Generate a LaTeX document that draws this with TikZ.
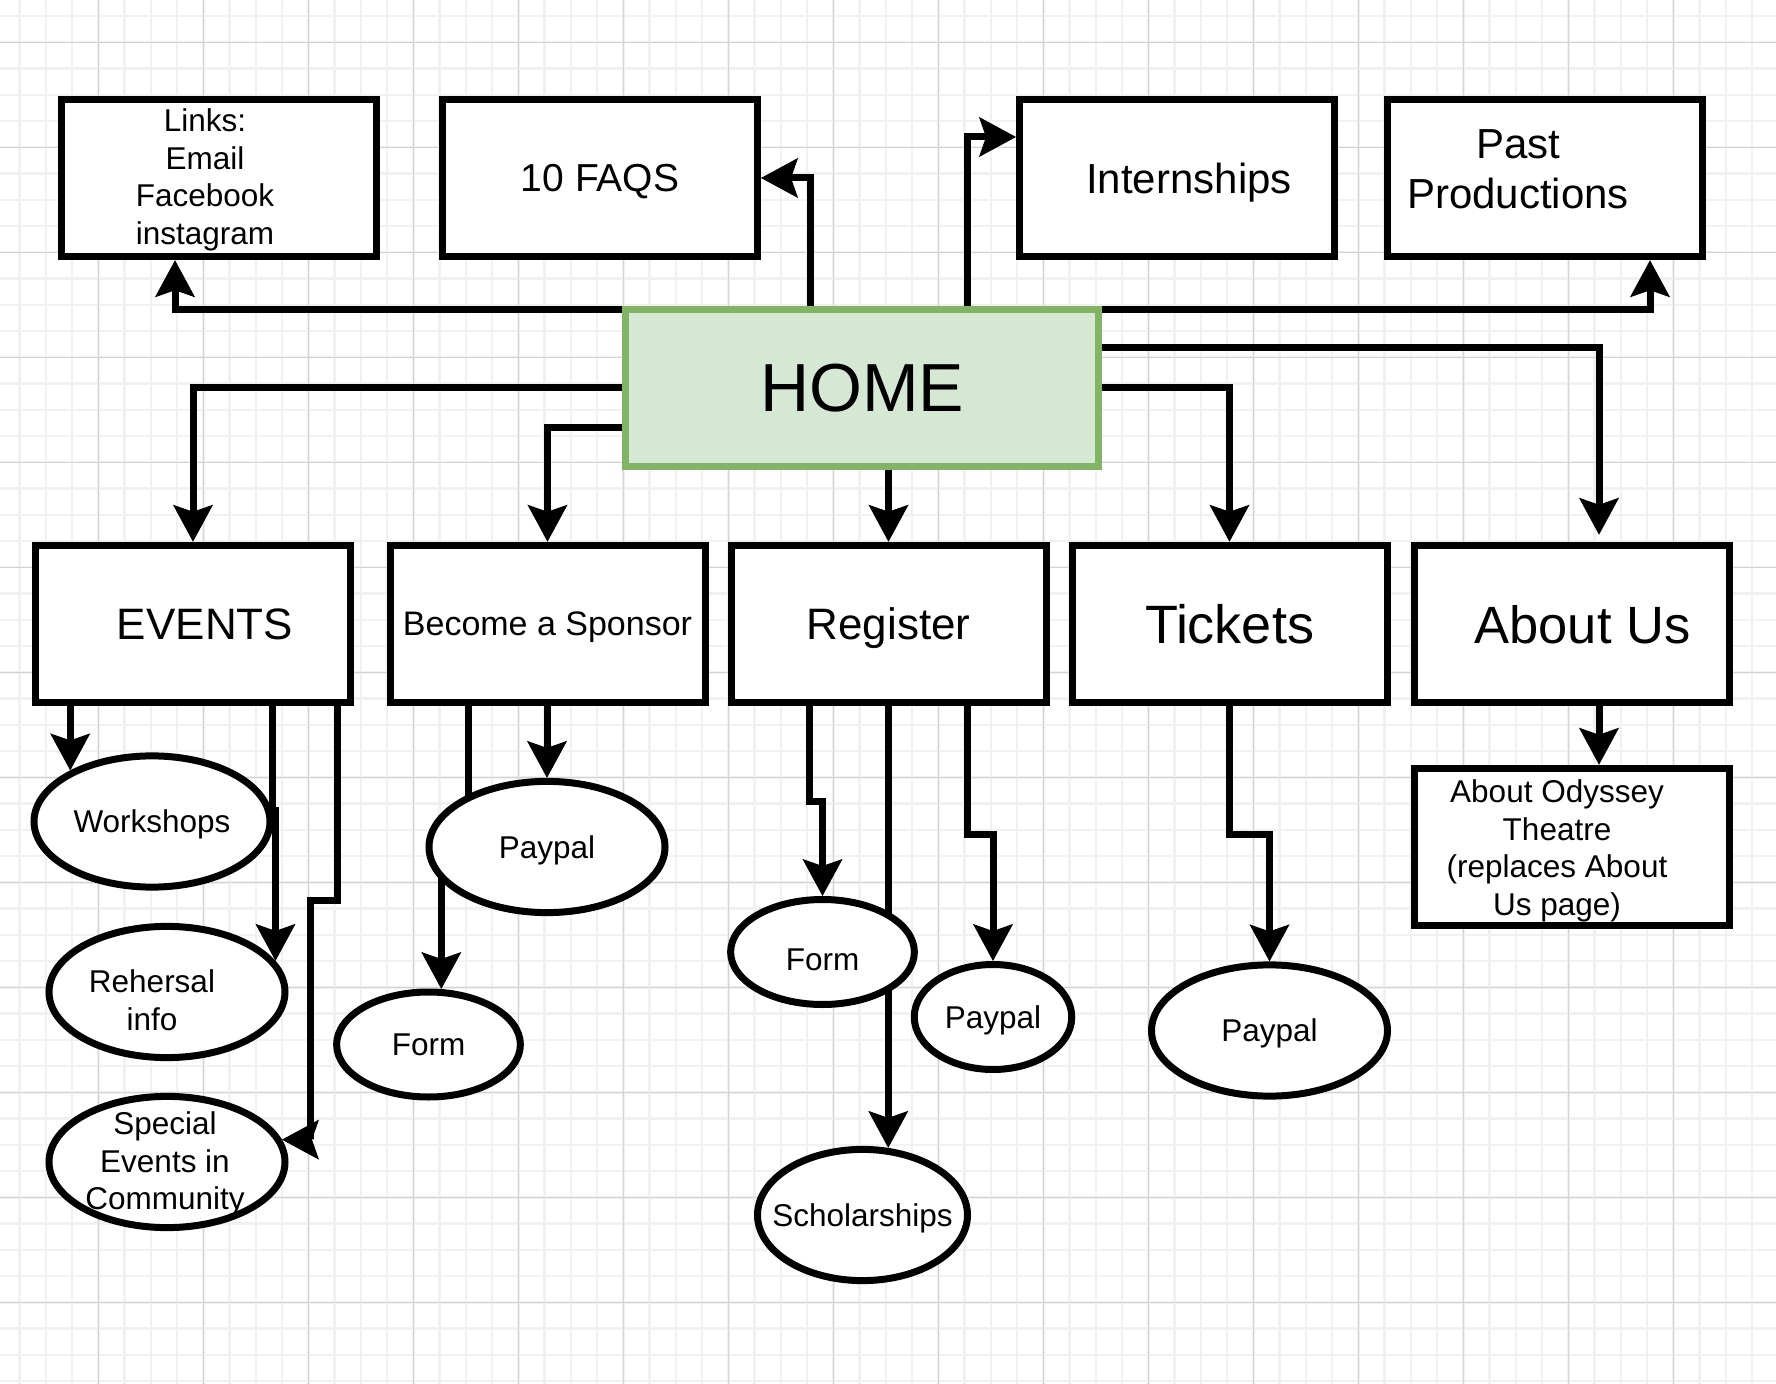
\documentclass[tikz,border=0pt]{standalone}
\usepackage{fontspec}
\setmainfont{Liberation Sans}
\usetikzlibrary{arrows.meta,positioning,shapes.geometric,backgrounds}
\definecolor{Sage}{HTML}{D5E8D4}
\definecolor{Leaf}{HTML}{82B366}
\definecolor{GridMinor}{HTML}{F1F1F1}
\definecolor{GridMajor}{HTML}{D3D3D3}
\tikzset{page/.style={draw=black,fill=white,line width=3.5pt,minimum width=157.5pt,
  minimum height=78.75pt,inner sep=0pt,text depth=0pt},
  leaf/.style={ellipse,draw=black,fill=white,line width=3.5pt,inner sep=0pt,
  minimum width=118pt,minimum height=65.6pt},
  small/.style={font=\fontsize{15.75}{18.75}\selectfont,align=center},
  link/.style={-{Stealth[length=18.5pt,width=20pt,inset=3.5pt,line width=0.5pt]},line width=3.5pt}}
\begin{document}
\begin{tikzpicture}[x=0.5pt,y=-0.5pt]
\useasboundingbox (0,0) rectangle (1776,1384);
\begin{scope}[on background layer]
\fill[white] (0,0) rectangle (1776,1384);
\foreach \k in {0,...,67} \draw[GridMinor,line width=1.2pt] ({19.55+26.25*\k},0) -- ++(0,1384);
\foreach \k in {0,...,52} \draw[GridMinor,line width=1.2pt] (0,{16.05+26.25*\k}) -- ++(1776,0);
\foreach \k in {0,...,15} \draw[GridMajor,line width=0.5pt] ({98.3+105*\k},0) -- ++(0,1384);
\foreach \k in {0,...,12} \draw[GridMajor,line width=0.5pt] (0,{42.3+105*\k}) -- ++(1776,0);
\end{scope}
% top row
\node[page,label={[small,xshift=-6.75pt,yshift=-1pt]center:{Links:\\Email\\Facebook\\instagram}}] (links) at (218.5,178) {};
\node[page,font=\fontsize{19.5}{23}\selectfont] (faqs) at (600,178) {10 FAQS};
\node[page,label={[font=\fontsize{21}{25}\selectfont,text depth=0pt,xshift=6pt]center:Internships}] (intern) at (1177,178) {};
\node[page,label={[font=\fontsize{21}{25}\selectfont,align=center,xshift=-13.25pt,yshift=4.5pt]center:{Past\\Productions}}] (past) at (1544.5,178) {};
\node[page,fill=Sage,draw=Leaf,minimum width=236.25pt,font=\fontsize{34}{40}\selectfont] (home) at (862,388) {HOME};
% second row
\node[page,label={[font=\fontsize{22}{26}\selectfont,text depth=0pt,xshift=6pt]center:EVENTS}] (events) at (193,624) {};
\node[page,font=\fontsize{17}{20}\selectfont] (sponsor) at (547.5,624) {Become a Sponsor};
\node[page,font=\fontsize{22}{26}\selectfont] (register) at (888.5,624) {Register};
\node[page,font=\fontsize{27}{32}\selectfont] (tickets) at (1229.5,624) {Tickets};
\node[page,label={[font=\fontsize{26.25}{31}\selectfont,text depth=0pt,xshift=5.5pt]center:About Us}] (about) at (1571.5,624) {};
\node[page,label={[small,xshift=-7.25pt,yshift=-2pt]center:{About Odyssey\\Theatre\\(replaces About\\Us page)}}] (odyssey) at (1571.5,847) {};
% sub pages
\node[leaf,small,text depth=0pt] (workshops) at (152,821.5) {Workshops};
\node[leaf,label={[small,xshift=-7.5pt,yshift=-4pt]center:{Rehersal\\info}}] (rehersal) at (167,992) {};
\node[leaf,label={[small,xshift=-1pt,yshift=-1pt]center:{Special\\Events in\\Community}}] (special) at (167,1162) {};
\node[leaf,small,text depth=0pt] (spaypal) at (547,847) {Paypal};
\node[leaf,small,text depth=0pt,minimum width=91.875pt,minimum height=52.5pt] (sform) at (428.5,1044.5) {Form};
\node[leaf,minimum width=91.875pt,minimum height=52.5pt,label={[small,text depth=0pt,yshift=-3.75pt]center:Form}] (rform) at (822.5,952) {};
\node[leaf,small,text depth=0pt,minimum width=78.75pt,minimum height=52.5pt] (rpaypal) at (993,1017) {Paypal};
\node[leaf,minimum width=105pt,label={[small,text depth=0pt]center:Scholarships}] (scholar) at (862.5,1215) {};
\node[leaf,small,text depth=0pt] (tpaypal) at (1269.5,1030.5) {Paypal};
\begin{scope}[on background layer]
\draw[link] ([yshift=-1.75pt]home.north west) -| ([xshift=-21.75pt]links.south);
\draw[link] ([xshift=-26pt]home.north) |- (faqs.east);
\draw[link] ([xshift=52.5pt]home.north) |- ([yshift=20.5pt]intern.west);
\draw[link] ([yshift=-1.75pt]home.north east) -| ([xshift=52.75pt]past.south);
\draw[link] ([yshift=20pt]home.east) -| ([xshift=13.75pt,yshift=3.5pt]about.north);
\draw[link] (home.east) -| (tickets.north);
\draw[link] (register.north |- home.south) -- (register.north);
\draw[link] ([yshift=-20pt]home.west) -| (sponsor.north);
\draw[link] (home.west) -| (events.north);
% events pages
\draw[link] (workshops.148 |- events.south) -- (workshops.148);
\draw[link] ([xshift=39.5pt]events.south) -- ++(0,103.75) -| (rehersal.16);
\draw[link] ([xshift=72pt]events.south) -- ++(0,193.75) -| ([xshift=14.25pt]special.11) -- (special.11);
% sponsor pages
\draw[link] (spaypal.north |- sponsor.south) -- (spaypal.north);
\draw[link] ([xshift=-39.75pt]sponsor.south) -- ++(0,140.75) -| (sform.77);
% register and tickets pages
\draw[link] ([xshift=-39.5pt]register.south) -- ++(0,95.5) -| (rform.north);
\draw[link] (scholar.69 |- register.south) -- (scholar.69);
\draw[link] ([xshift=39.25pt]register.south) -- ++(0,127.75) -| (rpaypal.north);
\draw[link] (tickets.south) -- ++(0,127.75) -| (tpaypal.north);
\draw[link] ([xshift=13.75pt]about.south) -- ([xshift=13.75pt]odyssey.north);
\end{scope}
\end{tikzpicture}
\end{document}
